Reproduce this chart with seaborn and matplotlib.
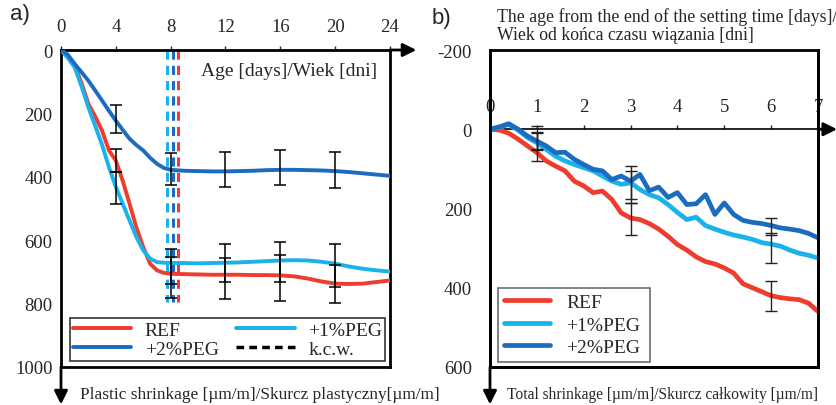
import numpy as np
import pandas as pd
import matplotlib
matplotlib.use('Agg')
import matplotlib.pyplot as plt
from matplotlib.lines import Line2D
from matplotlib.patches import Rectangle
import seaborn as sns

# ---- panel a) plastic shrinkage, days 0-24 ----
days_a = [0, 0.5, 1, 1.5, 2, 2.5, 3, 3.5, 4, 4.5, 5, 5.5, 6, 6.5, 7, 7.5, 8,
          9, 10, 11, 12, 13, 14, 15, 16, 17, 18, 19, 20, 21, 22, 23, 24]
ref_a = [0, 20, 49, 105, 170, 210, 255, 317, 349, 412, 485, 560, 622, 674, 695, 703, 706,
         707, 708, 709, 709, 709, 710, 710, 711, 714, 721, 730, 737, 738, 737, 732, 727]
peg1_a = [0, 25, 55, 115, 181, 240, 300, 370, 432, 485, 538, 590, 632, 658, 669, 671, 672,
          672, 673, 672, 671, 670, 668, 666, 664, 663, 664, 668, 674, 683, 690, 695, 699]
peg2_a = [0, 15, 44, 70, 97, 128, 160, 192, 223, 252, 280, 300, 317, 340, 359, 372, 378,
          381, 382, 383, 383, 382, 381, 379, 378, 378, 379, 380, 382, 385, 389, 393, 397]

err_days_a = [4, 8, 12, 16, 20]
ref_err_mean_a = [349, 718, 721, 720, 737]
ref_err_a = [37, 65, 66, 72, 60]
peg1_err_mean_a = [435, 682, 671, 669, 679]
peg1_err_a = [50, 55, 60, 62, 68]
peg2_err_mean_a = [217, 376, 378, 372, 378]
peg2_err_a = [45, 51, 55, 55, 57]

# end of setting time (k.c.w.) for REF, +1%PEG, +2%PEG
kcw_days = [8.54, 7.74, 8.18]
kcw_top = 0
kcw_bottom = 795

# ---- panel b) total shrinkage, days 0-7 ----
days_b = [0, 0.2, 0.4, 0.6, 0.8, 1.0, 1.2, 1.4, 1.6, 1.8, 2.0, 2.2, 2.4, 2.6, 2.8, 3.0,
          3.2, 3.4, 3.6, 3.8, 4.0, 4.2, 4.4, 4.6, 4.8, 5.0, 5.2, 5.4, 5.6, 5.8, 6.0,
          6.2, 6.4, 6.6, 6.8, 7.0]
ref_b = [0, 2, 10, 25, 42, 59, 80, 93, 105, 131, 143, 160, 156, 177, 211, 224,
         228, 238, 252, 270, 291, 305, 322, 334, 340, 350, 363, 390, 400, 410, 420,
         425, 428, 430, 439, 460]
peg1_b = [0, -5, -12, 2, 21, 34, 51, 68, 80, 89, 97, 105, 118, 131, 139, 135,
          152, 165, 173, 190, 210, 228, 222, 243, 252, 260, 267, 272, 278, 286, 290,
          295, 305, 313, 318, 325]
peg2_b = [0, -6, -14, 0, 17, 30, 42, 59, 58, 76, 89, 101, 105, 127, 118, 131,
          114, 155, 146, 172, 160, 190, 188, 165, 215, 186, 215, 230, 235, 238, 243,
          249, 252, 256, 263, 274]

err_days_b = [1, 3, 6]
ref_err_mean_b = [45, 227, 420]
ref_err_b = [35, 41, 38]
peg1_err_mean_b = [30, 146, 300]
peg1_err_b = [22, 40, 38]
peg2_err_mean_b = [22, 135, 245]
peg2_err_b = [29, 42, 21]

c_ref = '#EE3D2F'
c_peg1 = '#1AB2EA'
c_peg2 = '#1B6CC0'

sns.set_style('white')
plt.rcParams['font.family'] = ['Liberation Serif', 'DejaVu Serif']
plt.rcParams['axes.unicode_minus'] = False

fig = plt.figure(figsize=(8.37, 4.06), dpi=100)
ax1 = fig.add_axes([61 / 837, 1 - 368 / 406, 329 / 837, 317 / 406])
ax2 = fig.add_axes([490 / 837, 1 - 368 / 406, 328 / 837, 317 / 406])

# ---------------- panel a ----------------
ax1.vlines(kcw_days, kcw_top, kcw_bottom, colors=[c_ref, c_peg1, c_peg2],
           linestyles=(0, (3, 2)), lw=2.2, zorder=2)
sns.lineplot(x=days_a, y=ref_a, ax=ax1, color=c_ref, lw=2.8, label='REF', zorder=3)
sns.lineplot(x=days_a, y=peg1_a, ax=ax1, color=c_peg1, lw=2.8, label='+1%PEG', zorder=3)
sns.lineplot(x=days_a, y=peg2_a, ax=ax1, color=c_peg2, lw=2.8, label='+2%PEG', zorder=3)
for m, e in [(peg2_err_mean_a, peg2_err_a), (peg1_err_mean_a, peg1_err_a), (ref_err_mean_a, ref_err_a)]:
    ax1.errorbar(err_days_a, m, yerr=e, fmt='none', ecolor='black', elinewidth=1.1,
                 capsize=4.5, capthick=1.1, zorder=4)

ax1.set_xlim(0, 24)
ax1.set_ylim(1000, 0)
ax1.set_xticks([0, 4, 8, 12, 16, 20, 24])
ax1.set_yticks([0, 200, 400, 600, 800, 1000])
ax1.xaxis.tick_top()
ax1.tick_params(axis='x', direction='out', length=3, width=1, pad=8, labelsize=13.5)
ax1.tick_params(axis='y', direction='out', length=3, width=1, pad=3, labelsize=13.5)
ax1.set_xlabel('')
ax1.set_ylabel('')
for s in ax1.spines.values():
    s.set_visible(True)
    s.set_color('black')
    s.set_linewidth(2)

h, l = ax1.get_legend_handles_labels()
kcw = Line2D([], [], color='black', lw=2.5, linestyle=(0, (2.2, 1.5)))
hd = dict(zip(l, h))
ax1.legend([hd['REF'], hd['+2%PEG'], hd['+1%PEG'], kcw],
           ['REF', '+2%PEG', '+1%PEG', 'k.c.w.'], ncol=2, mode='expand',
           loc='lower left', bbox_to_anchor=(0.027, 0.019, 0.958, 0.158),
           fontsize=14, frameon=True, fancybox=False, edgecolor='black',
           handlelength=3.0, handletextpad=0.7, borderpad=0.15, labelspacing=0.1,
           borderaxespad=0, columnspacing=1.5)
ax1.get_legend().get_frame().set_linewidth(1.2)

ax1.text(0.96, 0.934, 'Age [days]/Wiek [dni]', transform=ax1.transAxes,
         ha='right', va='center', fontsize=14)

arrow = dict(arrowstyle='-|>', color='black', lw=2, mutation_scale=20, shrinkA=0, shrinkB=0)
ax1.annotate('', xy=(0, -0.118), xytext=(0, 0), xycoords='axes fraction',
             textcoords='axes fraction', arrowprops=arrow, annotation_clip=False)
ax1.annotate('', xy=(1.08, 1), xytext=(1, 1), xycoords='axes fraction',
             textcoords='axes fraction', arrowprops=arrow, annotation_clip=False)

# ---------------- panel b ----------------
sns.lineplot(x=days_b, y=ref_b, ax=ax2, color=c_ref, lw=3.4, label='REF', zorder=3)
sns.lineplot(x=days_b, y=peg1_b, ax=ax2, color=c_peg1, lw=3.4, label='+1%PEG', zorder=3)
sns.lineplot(x=days_b, y=peg2_b, ax=ax2, color=c_peg2, lw=3.4, label='+2%PEG', zorder=3)
for m, e in [(peg2_err_mean_b, peg2_err_b), (peg1_err_mean_b, peg1_err_b), (ref_err_mean_b, ref_err_b)]:
    ax2.errorbar(err_days_b, m, yerr=e, fmt='none', ecolor='#222222', elinewidth=1.0,
                 capsize=4.5, capthick=1.0, zorder=4)

ax2.set_xlim(0, 7)
ax2.set_ylim(600, -200)
ax2.set_xticks([0, 1, 2, 3, 4, 5, 6, 7])
ax2.set_yticks([-200, 0, 200, 400, 600])
ax2.xaxis.tick_top()
ax2.spines['top'].set_position(('data', 0))
ax2.spines['top'].set_linewidth(1.2)
ax2.spines['top'].set_color('black')
for side in ['left', 'right', 'bottom']:
    ax2.spines[side].set_visible(True)
    ax2.spines[side].set_color('black')
    ax2.spines[side].set_linewidth(2)
ax2.add_patch(Rectangle((0, 0), 1, 1, transform=ax2.transAxes, fill=False,
                        edgecolor='black', lw=2, clip_on=False, zorder=5))
ax2.tick_params(axis='x', direction='out', length=3, width=1, pad=7, labelsize=13.5)
ax2.tick_params(axis='y', direction='out', length=3, width=1, pad=10, labelsize=13.5)
ax2.set_xlabel('')
ax2.set_ylabel('')

ax2.legend(loc='lower left', bbox_to_anchor=(0.024, 0.016, 0.464, 0.268), mode='expand',
           fontsize=14, frameon=True, fancybox=False, edgecolor='#3c4a4f',
           handlelength=2.4, handletextpad=0.8, borderpad=0.3, labelspacing=0.25,
           borderaxespad=0)
ax2.get_legend().get_frame().set_linewidth(1.2)

ax2.annotate('', xy=(0, -0.118), xytext=(0, 0), xycoords='axes fraction',
             textcoords='axes fraction', arrowprops=arrow, annotation_clip=False)
ax2.annotate('', xy=(1.058, 0), xytext=(1, 0), xycoords=('axes fraction', 'data'),
             textcoords=('axes fraction', 'data'), arrowprops=arrow, annotation_clip=False)

# ---------------- figure texts ----------------
fig.text(10 / 837, 1 - 4 / 406, 'a)', fontsize=16, va='top', ha='left',
         family=['Liberation Sans', 'DejaVu Sans'])
fig.text(432 / 837, 1 - 8 / 406, 'b)', fontsize=16, va='top', ha='left',
         family=['Liberation Sans', 'DejaVu Sans'])
fig.text(497 / 837, 1 - 8 / 406,
         'The age from the end of the setting time [days]/\nWiek od końca czasu wiązania [dni]',
         fontsize=12.8, va='top', ha='left', linespacing=1.05)
fig.text(80 / 837, 1 - 395 / 406, 'Plastic shrinkage [µm/m]/Skurcz plastyczny[µm/m]',
         fontsize=12.4, va='center', ha='left')
fig.text(507 / 837, 1 - 395 / 406, 'Total shrinkage [µm/m]/Skurcz całkowity [µm/m]',
         fontsize=11.2, va='center', ha='left')

fig.savefig('out.png', dpi=100)
